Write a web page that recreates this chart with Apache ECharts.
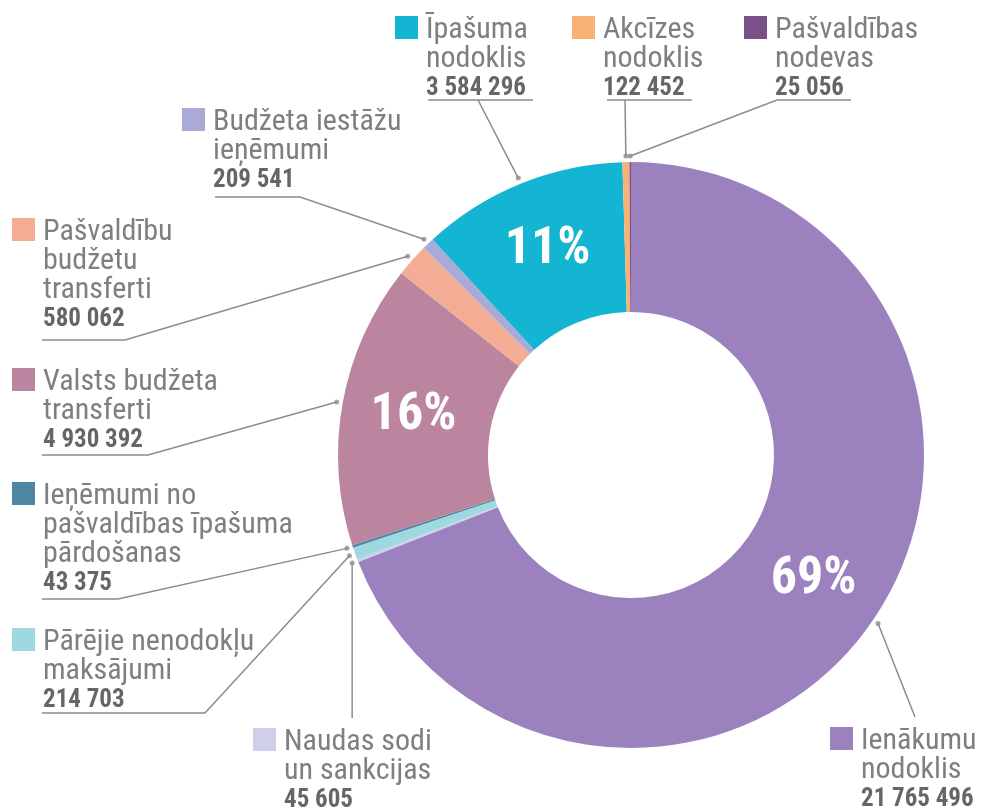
<!DOCTYPE html>
<html><head><meta charset="utf-8">
<script src="https://cdn.jsdelivr.net/npm/echarts@6/dist/echarts.min.js"></script>
<style>html,body{margin:0;padding:0;background:#fff}#c{width:987px;height:809px}</style>
</head><body><div id="c"></div>
<script>
// ---- data ----
const categories = ['Ienākumu\nnodoklis', 'Naudas sodi\nun sankcijas', 'Pārējie nenodokļu\nmaksājumi',
  'Ieņēmumi no\npašvaldības īpašuma\npārdošanas', 'Valsts budžeta\ntransferti', 'Pašvaldību\nbudžetu\ntransferti',
  'Budžeta iestāžu\nieņēmumi', 'Īpašuma\nnodoklis', 'Akcīzes\nnodoklis', 'Pašvaldības\nnodevas'];
const values = [21765496, 45605, 214703, 43375, 4930392, 580062, 209541, 3584296, 122452, 25056];
const colors = ['#9b82bf', '#cfcfe9', '#9fd9e0', '#4f86a3', '#bb85a0', '#f3ad95', '#a9aad7', '#13b5d3', '#f8b274', '#7b4f88'];

// ---- layout (label boxes & leader paths, px) ----
const CX = 631, CY = 455, R_IN = 143, R_OUT = 293, DOT_R = 299;
const labelLayoutCfg = [
  {x: 830, y: 727, path: [[915, 717]]},
  {x: 253, y: 728, path: [[null, 718]]},
  {x: 12, y: 628, path: [[205, 713], [42, 713]]},
  {x: 12, y: 482, path: [[118, 599], [42, 599]]},
  {x: 12, y: 368, path: [[148, 455], [42, 455]]},
  {x: 12, y: 218, path: [[125, 340], [42, 340]]},
  {x: 182, y: 108, path: [[300, 197], [215, 197]]},
  {x: 395, y: 16, path: [[478, 100], [428, 100], [533, 100]]},
  {x: 572, y: 16, path: [[625, 100], [607, 100], [692, 100]]},
  {x: 744, y: 16, path: [[777, 100], [851, 100]]}
];
const FONT = "'Roboto Condensed', 'Liberation Sans Narrow', 'Arial Narrow', 'DejaVu Sans Condensed', Roboto, sans-serif";

const total = values.reduce((a, b) => a + b, 0);
let acc = 0;
const mids = values.map(v => { const m = acc + v / 2; acc += v; return m; });
function dotXY(i) {
  const a = mids[i] / total * 2 * Math.PI;
  return [CX + DOT_R * Math.sin(a), CY - DOT_R * Math.cos(a)];
}
const fmt = v => String(v).replace(/\B(?=(\d{3})+(?!\d))/g, ' ');

const rich = {
  gap: {width: 8, lineHeight: 29},
  sp: {width: 31, lineHeight: 29},
  name: {fontFamily: FONT, fontSize: 30, color: '#7f7f7f', lineHeight: 29},
  val: {fontFamily: FONT, fontSize: 25, fontWeight: 'bold', color: '#666666', lineHeight: 30}
};
colors.forEach((c, i) => { rich['sq' + i] = {width: 23, height: 23, backgroundColor: c, lineHeight: 29, verticalAlign: 'top'}; });

const pieData = categories.map((n, i) => ({name: n, value: values[i], itemStyle: {color: colors[i]}}));

const chart = echarts.init(document.getElementById('c'), null, {renderer: 'canvas'});
chart.setOption({
  backgroundColor: '#ffffff',
  animation: false,
  polar: {center: [CX, CY], radius: DOT_R},
  angleAxis: {type: 'value', min: 0, max: total, startAngle: 90, clockwise: true, show: false},
  radiusAxis: {type: 'value', min: 0, max: 1, show: false},
  series: [
    {
      type: 'pie', center: [CX, CY], radius: [R_IN, R_OUT], startAngle: 90, clockwise: true,
      silent: true, avoidLabelOverlap: false,
      data: pieData,
      label: {
        position: 'inside', color: '#fff', fontFamily: FONT, fontWeight: 'bold', fontSize: 52,
        formatter: p => p.percent >= 10 ? Math.round(p.percent) + '%' : ''
      },
      labelLine: {show: false}
    },
    {
      type: 'pie', center: [CX, CY], radius: [R_IN, R_OUT], startAngle: 90, clockwise: true,
      silent: true, avoidLabelOverlap: false, z: 3,
      data: pieData.map(d => ({name: d.name, value: d.value, itemStyle: {color: 'rgba(0,0,0,0)'}})),
      label: {
        show: true, position: 'outside', rich: rich,
        formatter: p => {
          const lines = categories[p.dataIndex].split('\n');
          const out = ['{sq' + p.dataIndex + '|}{gap|}{name|' + lines[0] + '}'];
          for (let k = 1; k < lines.length; k++) out.push('{sp|}{name|' + lines[k] + '}');
          out.push('{sp|}{val|' + fmt(values[p.dataIndex]) + '}');
          return out.join('\n');
        }
      },
      labelLine: {show: true, smooth: false, lineStyle: {color: '#8c8c8c', width: 1.5}},
      labelLayout: params => {
        const i = params.dataIndex;
        const cfg = labelLayoutCfg[i];
        const d = dotXY(i);
        const pts = [d].concat(cfg.path.map(p => [p[0] == null ? d[0] : p[0], p[1]]));
        return {x: cfg.x, y: cfg.y, align: 'left', verticalAlign: 'top', labelLinePoints: pts};
      }
    },
    {
      type: 'scatter', coordinateSystem: 'polar', silent: true, z: 4,
      symbol: 'circle', symbolSize: 5,
      itemStyle: {color: '#8c8c8c'},
      data: mids.map(m => [1, m])
    }
  ]
});
</script></body></html>
